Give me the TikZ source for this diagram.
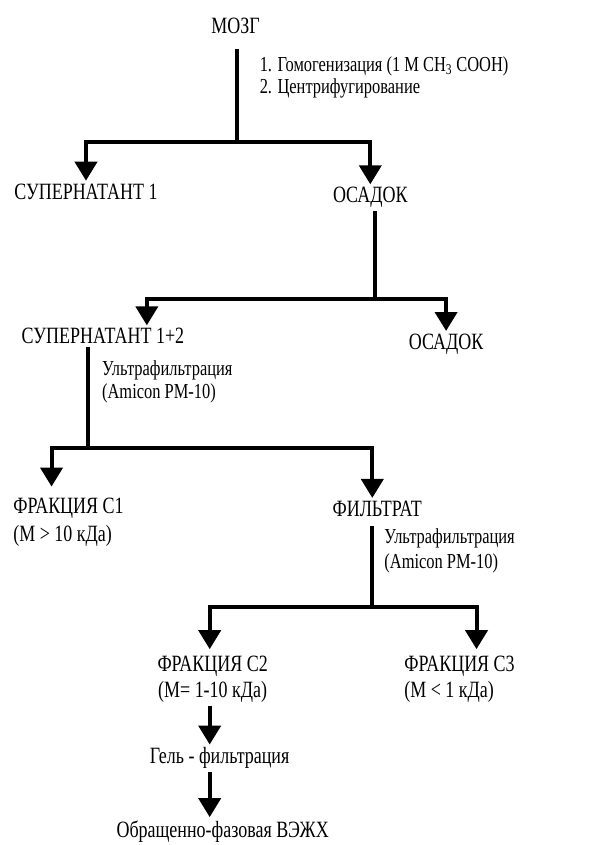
\documentclass[tikz,border=0pt]{standalone}
\usepackage{fontspec}
\setmainfont[FakeStretch=0.77]{Liberation Serif}
\usepackage{tikz}
\usetikzlibrary{arrows.meta}
\tikzset{
	stagetext/.style={font=\fontsize{23.4}{28}\selectfont, inner sep=3pt}
}
\tikzset{
	steptext/.style={font=\fontsize{21.4}{23}\selectfont, inner sep=0pt, anchor=west, align=left}
}
\tikzset{
	flowline/.style={line width=4pt, line join=miter}
}
\tikzset{
	flowarrow/.style={flowline, -{Triangle[width=22pt,length=19pt]}}
}

\begin{document}
\begin{tikzpicture}[x=1pt,y=-1pt]
\draw[opacity=0] (0,0) rectangle (601,845);

\coordinate (jA) at (237,142);
\coordinate (jB) at (376,300);
\coordinate (jC) at (88,449);
\coordinate (jD) at (373,608);

\node[stagetext] (mozg) at (236,26) {МОЗГ};
\node[steptext] (stepA) at (260,77) {1. Гомогенизация (1 M CH\textsubscript{3} COOH)\\[-1pt]2. Центрифугирование};
\node[stagetext] (sup1) at (86,192) {СУПЕРНАТАНТ 1};
\node[stagetext] (osad1) at (371,198) {ОСАДОК};
\node[stagetext] (sup12) at (103,337) {СУПЕРНАТАНТ 1+2};
\node[stagetext] (osad2) at (447,345) {ОСАДОК};
\node[steptext] (stepB) at (102,383) {Ультрафильтрация\\(Amicon PM-10)};
\node[stagetext, anchor=west, align=left] (frC1) at (10,523) {ФРАКЦИЯ С1\\(M > 10 кДа)};
\node[stagetext] (filtrat) at (378,510) {ФИЛЬТРАТ};
\node[steptext] (stepC) at (385,552) {Ультрафильтрация\\[2pt](Amicon PM-10)};
\node[stagetext, align=center] (frC2) at (213,681) {ФРАКЦИЯ С2\\[-2pt](M= 1-10 кДа)};
\node[stagetext, anchor=west, align=left] (frC3) at (402,681) {ФРАКЦИЯ С3\\[-2pt](M < 1 кДа)};
\node[stagetext] (gel) at (220,760) {Гель - фильтрация};
\node[stagetext] (hplc) at (223,833) {Обращенно-фазовая ВЭЖХ};

\draw[flowline, shorten <=12pt] (mozg.south -| jA) -- (jA);
\draw[flowarrow] (jA) -| (sup1);
\draw[flowarrow] (jA) -| (osad1);

\draw[flowline] (osad1.south -| jB) -- (jB);
\draw[flowarrow] (jB) -| ([xshift=44pt]sup12.north);
\draw[flowarrow] (jB) -| (osad2);

\draw[flowline] (sup12.south -| jC) -- (jC);
\draw[flowarrow] (jC) -| ([xshift=-17pt,yshift=8pt]frC1.north);
\draw[flowarrow] (jC) -| ([xshift=-5pt]filtrat.north);

\draw[flowline, shorten <=6pt] (filtrat.south -| jD) -- (jD);
\draw[flowarrow] (jD) -| ([xshift=-3pt,yshift=4pt]frC2.north);
\draw[flowarrow] (jD) -| ([xshift=17pt,yshift=4pt]frC3.north);

\draw[flowarrow] ([xshift=-3pt]frC2.south) -- ([xshift=-3pt]frC2.south |- gel.north);
\draw[flowarrow] ([xshift=-3pt]frC2.south |- gel.south) -- ([xshift=-3pt]frC2.south |- hplc.north);

\end{tikzpicture}
\end{document}
